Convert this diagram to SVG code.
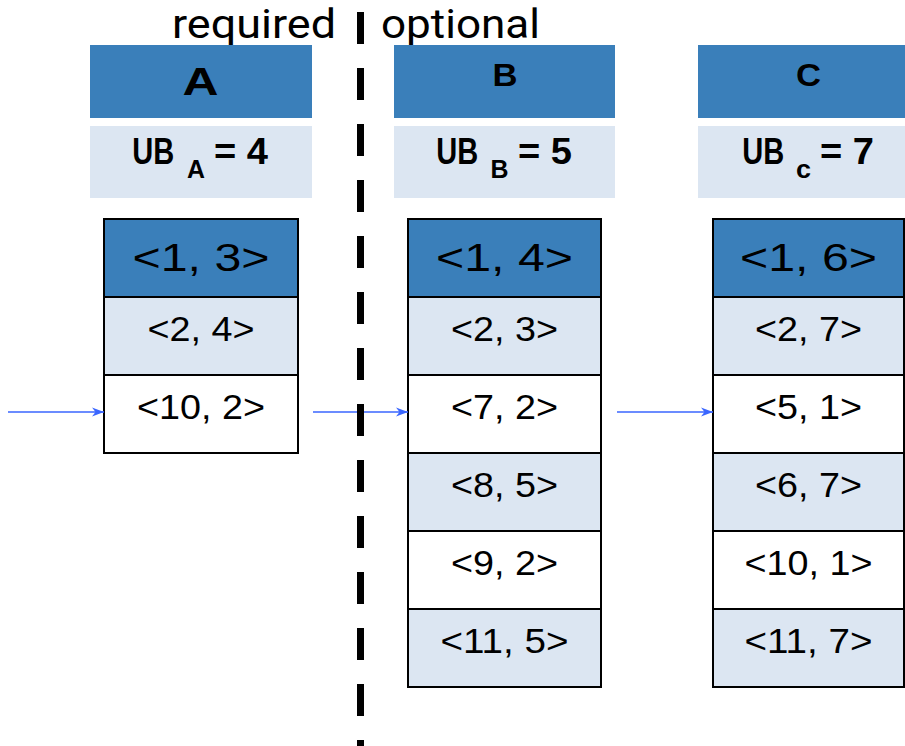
<svg xmlns="http://www.w3.org/2000/svg" width="905" height="746" viewBox="0 0 905 746">
<style>
.dark{fill:#3a7fba}
.light{fill:#dce6f2}
.cd{fill:#3a7fba;stroke:#000;stroke-width:2}
.cl{fill:#dce6f2;stroke:#000;stroke-width:2}
.cw{fill:#fff;stroke:#000;stroke-width:2}
.t{font-family:"Liberation Sans",Arial,sans-serif;fill:#000;text-anchor:middle}
.big{font-size:39px}
.row{font-size:35px}
.hb{font-family:"Liberation Sans",Arial,sans-serif;font-weight:bold;fill:#000}
.lab{font-family:Roboto,"Open Sans",sans-serif;font-size:40px;fill:#000}
.conn{stroke:#3a66ff;stroke-width:1.6;fill:none}
</style>
<defs>
<marker id="ah" markerUnits="userSpaceOnUse" markerWidth="13" markerHeight="10" refX="12" refY="5" orient="auto">
<path d="M0,0.5 L12,5 L0,9.5 L3.5,5 Z" fill="#3a66ff"/>
</marker>
</defs>
<rect width="905" height="746" fill="#fff"/>

<text class="lab" x="172" y="38" textLength="164" lengthAdjust="spacingAndGlyphs">required</text>
<text class="lab" x="381" y="38" textLength="159" lengthAdjust="spacingAndGlyphs">optional</text>

<g id="headerA">
<rect class="dark" x="90" y="45" width="222" height="73"/>
<text class="hb" x="200.5" y="95" font-size="38" text-anchor="middle" textLength="36" lengthAdjust="spacingAndGlyphs">A</text>
<rect class="light" x="90" y="126" width="222" height="72"/>
<text class="hb" x="132.3" y="164" font-size="36" textLength="42" lengthAdjust="spacingAndGlyphs">UB</text>
<text class="hb" x="187" y="178" font-size="25" textLength="18" lengthAdjust="spacingAndGlyphs">A</text>
<text class="hb" x="214" y="164" font-size="36" textLength="54" lengthAdjust="spacingAndGlyphs">= 4</text>
</g>
<g id="headerB">
<rect class="dark" x="394" y="45" width="221" height="73"/>
<text class="hb" x="505" y="86" font-size="32" text-anchor="middle" textLength="25" lengthAdjust="spacingAndGlyphs">B</text>
<rect class="light" x="394" y="126" width="221" height="72"/>
<text class="hb" x="436.3" y="164" font-size="36" textLength="42" lengthAdjust="spacingAndGlyphs">UB</text>
<text class="hb" x="490.5" y="178" font-size="25" textLength="18" lengthAdjust="spacingAndGlyphs">B</text>
<text class="hb" x="518" y="164" font-size="36" textLength="54" lengthAdjust="spacingAndGlyphs">= 5</text>
</g>
<g id="headerC">
<rect class="dark" x="698" y="45" width="222" height="73"/>
<text class="hb" x="808.5" y="86" font-size="32" text-anchor="middle" textLength="25" lengthAdjust="spacingAndGlyphs">C</text>
<rect class="light" x="698" y="126" width="222" height="72"/>
<text class="hb" x="742.3" y="164" font-size="36" textLength="42" lengthAdjust="spacingAndGlyphs">UB</text>
<text class="hb" x="796" y="178" font-size="25" textLength="15" lengthAdjust="spacingAndGlyphs">c</text>
<text class="hb" x="820" y="164" font-size="36" textLength="54" lengthAdjust="spacingAndGlyphs">= 7</text>
</g>

<g id="listA">
<rect class="cd" x="104" y="219" width="194" height="78"/>
<text class="t big" x="201" y="271" textLength="137" lengthAdjust="spacingAndGlyphs">&lt;1, 3&gt;</text>
<rect class="cl" x="104" y="297" width="194" height="78"/>
<text class="t row" x="201" y="341" textLength="107" lengthAdjust="spacingAndGlyphs">&lt;2, 4&gt;</text>
<rect class="cw" x="104" y="375" width="194" height="78"/>
<text class="t row" x="201" y="419" textLength="128" lengthAdjust="spacingAndGlyphs">&lt;10, 2&gt;</text>
</g>

<g id="listB">
<rect class="cd" x="408" y="219" width="193" height="78"/>
<text class="t big" x="504.5" y="271" textLength="137" lengthAdjust="spacingAndGlyphs">&lt;1, 4&gt;</text>
<rect class="cl" x="408" y="297" width="193" height="78"/>
<text class="t row" x="504.5" y="341" textLength="107" lengthAdjust="spacingAndGlyphs">&lt;2, 3&gt;</text>
<rect class="cw" x="408" y="375" width="193" height="78"/>
<text class="t row" x="504.5" y="419" textLength="107" lengthAdjust="spacingAndGlyphs">&lt;7, 2&gt;</text>
<rect class="cl" x="408" y="453" width="193" height="78"/>
<text class="t row" x="504.5" y="497" textLength="107" lengthAdjust="spacingAndGlyphs">&lt;8, 5&gt;</text>
<rect class="cw" x="408" y="531" width="193" height="78"/>
<text class="t row" x="504.5" y="575" textLength="107" lengthAdjust="spacingAndGlyphs">&lt;9, 2&gt;</text>
<rect class="cl" x="408" y="609" width="193" height="78"/>
<text class="t row" x="504.5" y="653" textLength="128" lengthAdjust="spacingAndGlyphs">&lt;11, 5&gt;</text>
</g>

<g id="listC">
<rect class="cd" x="713" y="219" width="191" height="78"/>
<text class="t big" x="808.5" y="271" textLength="137" lengthAdjust="spacingAndGlyphs">&lt;1, 6&gt;</text>
<rect class="cl" x="713" y="297" width="191" height="78"/>
<text class="t row" x="808.5" y="341" textLength="107" lengthAdjust="spacingAndGlyphs">&lt;2, 7&gt;</text>
<rect class="cw" x="713" y="375" width="191" height="78"/>
<text class="t row" x="808.5" y="419" textLength="107" lengthAdjust="spacingAndGlyphs">&lt;5, 1&gt;</text>
<rect class="cl" x="713" y="453" width="191" height="78"/>
<text class="t row" x="808.5" y="497" textLength="107" lengthAdjust="spacingAndGlyphs">&lt;6, 7&gt;</text>
<rect class="cw" x="713" y="531" width="191" height="78"/>
<text class="t row" x="808.5" y="575" textLength="128" lengthAdjust="spacingAndGlyphs">&lt;10, 1&gt;</text>
<rect class="cl" x="713" y="609" width="191" height="78"/>
<text class="t row" x="808.5" y="653" textLength="128" lengthAdjust="spacingAndGlyphs">&lt;11, 7&gt;</text>
</g>

<g id="connectors">
<line class="conn" x1="8" y1="412" x2="104" y2="412" marker-end="url(#ah)"/>
<line class="conn" x1="313" y1="412" x2="408" y2="412" marker-end="url(#ah)"/>
<line class="conn" x1="617" y1="412" x2="713" y2="412" marker-end="url(#ah)"/>
</g>

<g id="divider">
<line x1="360.5" y1="12" x2="360.5" y2="746" stroke="#000" stroke-width="7" stroke-dasharray="32 24"/>
</g>
</svg>
